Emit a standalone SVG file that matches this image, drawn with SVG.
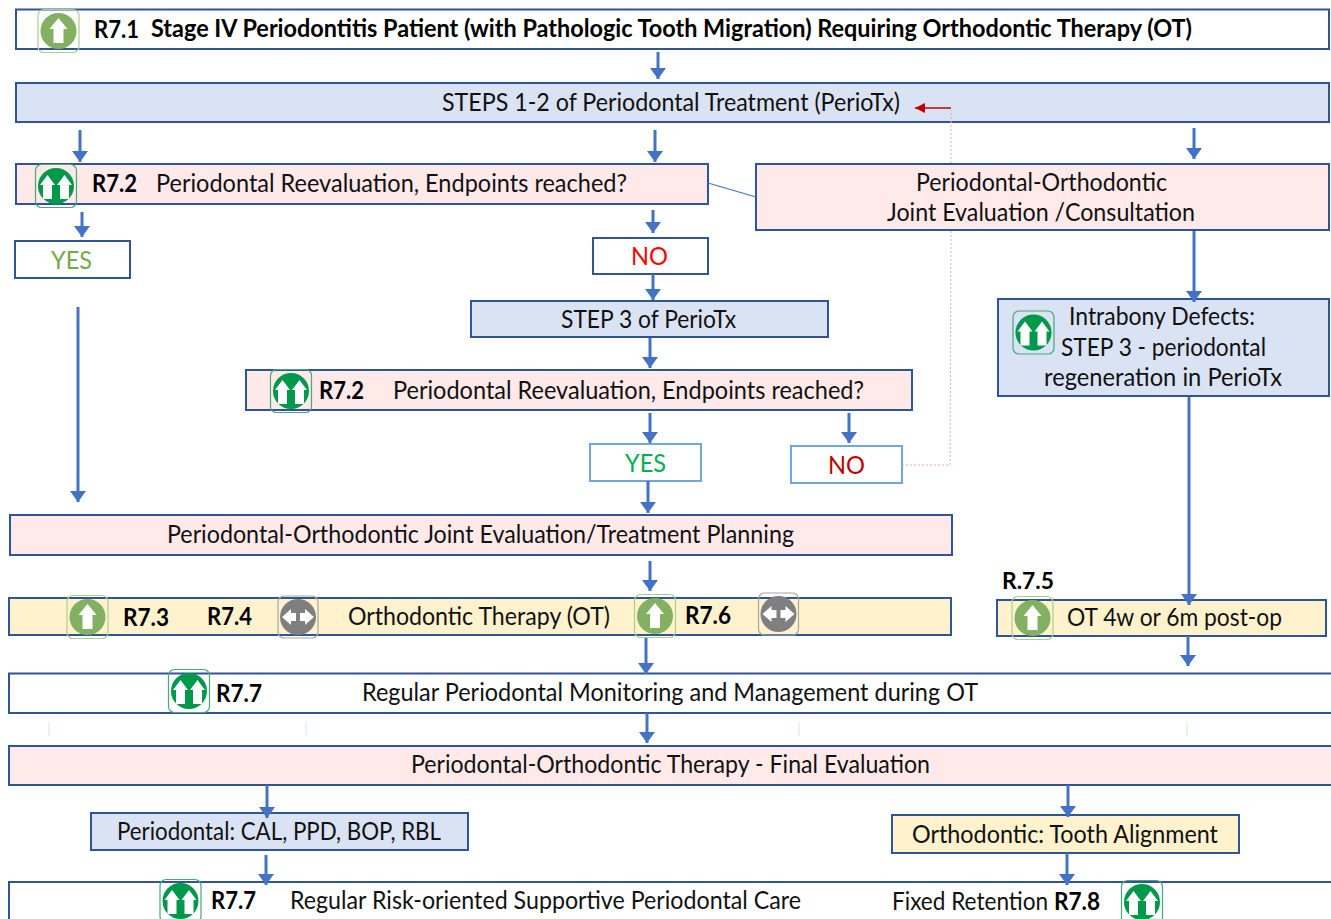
<svg xmlns="http://www.w3.org/2000/svg" width="1331" height="919" viewBox="0 0 1331 919">
<style>
text{font-family:Lato,"Open Sans","Liberation Sans",sans-serif;font-size:25px;fill:#111;}
.b{font-weight:700;fill:#000}
.box{stroke:#2f5597;stroke-width:2}
.w{fill:#fff}.blue{fill:#dae3f3}.pink{fill:#ffe9e9}.yel{fill:#fff2cc}
.lb{fill:#fff;stroke:#6fa8dc;stroke-width:2}
.fl{stroke:#4472c4;stroke-width:3;fill:none;marker-end:url(#ah)}
.tick{stroke:#e8edf5;stroke-width:1.5}
.dot{stroke:#e8a8a8;stroke-width:1;stroke-dasharray:2 2;fill:none}
</style>
<defs>
<marker id="ah" markerUnits="userSpaceOnUse" markerWidth="12" markerHeight="16" refX="11" refY="8" orient="auto"><path d="M0 0L11 8L0 16Z" fill="#4472c4"/></marker>
<marker id="rh" markerUnits="userSpaceOnUse" markerWidth="12" markerHeight="12" refX="10" refY="5" orient="auto"><path d="M0 0L10 5L0 10Z" fill="#c00000"/></marker>
<g id="up1"><rect x="-20.500" y="-21.500" width="41" height="43" rx="6" fill="none" stroke="#a9d18e" stroke-width="1.200"/><circle r="18" fill="#84b062"/><path d="M0 -13L9 -2H5V12H-5V-2H-9Z" fill="#fff"/></g>
<g id="up2"><rect x="-20.500" y="-21.500" width="41" height="43" rx="6" fill="none" stroke="#4aa878" stroke-width="1.200"/><circle r="18" fill="#00984a"/><path d="M-8.500 -11L-1 -1H-4V13H-13V-1H-16Z M8.500 -11L16 -1H13V13H4V-1H1Z" fill="#fff"/></g>
<g id="lr"><rect x="-20" y="-21" width="40" height="42" rx="6" fill="none" stroke="#a6a6a6" stroke-width="1.200"/><circle r="18" fill="#7f7f7f"/><path d="M-16 0L-7 -8V-4H-2V4H-7V8Z M16 0L7 -8V-4H2V4H7V8Z" fill="#fff"/></g>
</defs>

<g id="n-r71"><rect class="box w" x="16" y="9.500" width="1313" height="39.500"/><use href="#up1" x="58.500" y="31"/>
<text class="b" x="94" y="38" textLength="45" lengthAdjust="spacingAndGlyphs">R7.1</text>
<text class="b" x="151" y="37" textLength="1041" lengthAdjust="spacingAndGlyphs">Stage IV Periodontitis Patient (with Pathologic Tooth Migration) Requiring Orthodontic Therapy (OT)</text></g>

<g id="n-steps12"><rect class="box blue" x="16" y="83" width="1313" height="39"/>
<text x="442" y="111" textLength="458" lengthAdjust="spacingAndGlyphs">STEPS 1-2 of Periodontal Treatment (PerioTx)</text></g>

<g id="n-r72a"><rect class="box pink" x="16" y="164" width="692" height="40"/><use href="#up2" x="56" y="186"/>
<text class="b" x="92" y="192" textLength="45" lengthAdjust="spacingAndGlyphs">R7.2</text>
<text x="156" y="192" textLength="471" lengthAdjust="spacingAndGlyphs">Periodontal Reevaluation, Endpoints reached?</text></g>

<g id="n-consult"><rect class="box pink" x="756" y="164" width="573" height="66"/>
<text x="916" y="191" textLength="251" lengthAdjust="spacingAndGlyphs">Periodontal-Orthodontic</text>
<text x="887" y="221" textLength="308" lengthAdjust="spacingAndGlyphs">Joint Evaluation /Consultation</text></g>

<g id="n-yes1"><rect class="box w" x="15" y="241" width="115" height="37"/>
<text x="51" y="269" textLength="41" lengthAdjust="spacingAndGlyphs" style="fill:#70ad47">YES</text></g>

<g id="n-no1"><rect class="box w" x="593" y="238" width="115" height="36"/>
<text x="631" y="265" textLength="37" lengthAdjust="spacingAndGlyphs" style="fill:#ff0000">NO</text></g>

<g id="n-step3"><rect class="box blue" x="471" y="301" width="357" height="36"/>
<text x="561" y="328" textLength="175" lengthAdjust="spacingAndGlyphs">STEP 3 of PerioTx</text></g>

<g id="n-intrabony"><rect class="box blue" x="998" y="299" width="331" height="97"/><use href="#up2" x="1033.500" y="332.500"/>
<text x="1069" y="325" textLength="186" lengthAdjust="spacingAndGlyphs">Intrabony Defects:</text>
<text x="1061" y="356" textLength="205" lengthAdjust="spacingAndGlyphs">STEP 3 - periodontal</text>
<text x="1044" y="386" textLength="238" lengthAdjust="spacingAndGlyphs">regeneration in PerioTx</text></g>

<g id="n-r72b"><rect class="box pink" x="246" y="370" width="666" height="40"/><use href="#up2" x="291" y="391"/>
<text class="b" x="319" y="399" textLength="45" lengthAdjust="spacingAndGlyphs">R7.2</text>
<text x="393" y="399" textLength="471" lengthAdjust="spacingAndGlyphs">Periodontal Reevaluation, Endpoints reached?</text></g>

<g id="n-yes2"><rect class="lb" x="590" y="444" width="111" height="37"/>
<text x="625" y="472" textLength="41" lengthAdjust="spacingAndGlyphs" style="fill:#00b050">YES</text></g>

<g id="n-no2"><rect class="lb" x="791" y="446" width="111" height="37"/>
<text x="828" y="474" textLength="37" lengthAdjust="spacingAndGlyphs" style="fill:#c00000">NO</text></g>

<g id="n-planning"><rect class="box pink" x="10" y="515" width="942" height="40"/>
<text x="167" y="543" textLength="627" lengthAdjust="spacingAndGlyphs">Periodontal-Orthodontic Joint Evaluation/Treatment Planning</text></g>

<g id="n-ot"><rect class="box yel" x="9" y="598" width="942" height="37"/>
<use href="#up1" x="87.500" y="617"/><use href="#lr" x="298" y="617"/><use href="#up1" x="655" y="616"/><use href="#lr" x="778.500" y="614"/>
<text class="b" x="123" y="626" textLength="46" lengthAdjust="spacingAndGlyphs">R7.3</text>
<text class="b" x="207" y="625" textLength="45" lengthAdjust="spacingAndGlyphs">R7.4</text>
<text x="348" y="625" textLength="262" lengthAdjust="spacingAndGlyphs">Orthodontic Therapy (OT)</text>
<text class="b" x="685" y="624" textLength="46" lengthAdjust="spacingAndGlyphs">R7.6</text></g>

<g id="n-r75"><rect class="box yel" x="997" y="600" width="329" height="36"/><use href="#up1" x="1032.500" y="618"/>
<text class="b" x="1002" y="589" textLength="52" lengthAdjust="spacingAndGlyphs" style="font-size:23px">R.7.5</text>
<text x="1067" y="626" textLength="215" lengthAdjust="spacingAndGlyphs">OT 4w or 6m post-op</text></g>

<g id="n-monitor"><rect class="box w" x="9" y="673.500" width="1330" height="39.500"/><use href="#up2" x="189" y="691"/>
<text class="b" x="216" y="702" textLength="46" lengthAdjust="spacingAndGlyphs">R7.7</text>
<text x="362" y="701" textLength="616" lengthAdjust="spacingAndGlyphs">Regular Periodontal Monitoring and Management during OT</text></g>

<g id="n-final"><rect class="box pink" x="9" y="746" width="1330" height="39"/>
<text x="411" y="773" textLength="519" lengthAdjust="spacingAndGlyphs">Periodontal-Orthodontic Therapy - Final Evaluation</text></g>

<g id="n-perio"><rect class="box blue" x="91" y="813" width="377" height="37"/>
<text x="117" y="840" textLength="324" lengthAdjust="spacingAndGlyphs">Periodontal: CAL, PPD, BOP, RBL</text></g>

<g id="n-ortho"><rect class="box yel" x="892" y="815" width="347" height="38"/>
<text x="912" y="843" textLength="306" lengthAdjust="spacingAndGlyphs">Orthodontic: Tooth Alignment</text></g>

<g id="n-spc"><rect class="box w" x="9" y="882" width="1330" height="60"/><use href="#up2" x="180.500" y="901"/><use href="#up2" x="1142" y="902"/>
<text class="b" x="211" y="909" textLength="45" lengthAdjust="spacingAndGlyphs">R7.7</text>
<text x="290" y="909" textLength="511" lengthAdjust="spacingAndGlyphs">Regular Risk-oriented Supportive Periodontal Care</text>
<text x="892" y="910" textLength="208" lengthAdjust="spacingAndGlyphs">Fixed Retention <tspan class="b">R7.8</tspan></text></g>

<g id="connectors">
<path class="fl" d="M658 52V79"/>
<path class="fl" d="M80 130V162"/>
<path class="fl" d="M655 130V162"/>
<path class="fl" d="M1194 128V159"/>
<path class="fl" d="M82 212V237"/>
<path class="fl" d="M653 210V233"/>
<path class="fl" d="M653 274V300"/>
<path class="fl" d="M650 338V368"/>
<path class="fl" d="M650 413V443"/>
<path class="fl" d="M849 413V443"/>
<path class="fl" d="M648 481V513"/>
<path class="fl" d="M78 307V502"/>
<path class="fl" d="M650 561V591"/>
<path class="fl" d="M1194 231V302"/>
<path class="fl" d="M1189 397V605"/>
<path class="fl" d="M646 638V674"/>
<path class="fl" d="M1188 636V666"/>
<path class="fl" d="M647 713V743"/>
<path class="fl" d="M267 785V818"/>
<path class="fl" d="M1068 785V817"/>
<path class="fl" d="M266 855V885"/>
<path class="fl" d="M1067 853V885"/>
<path d="M708 183L756 197" stroke="#4472c4" stroke-width="1.200" fill="none"/>
<path class="dot" d="M902 465H950L951 231"/>
<path class="dot" d="M951 163V110"/>
<path d="M951 108H915" stroke="#c00000" stroke-width="1.500" fill="none" marker-end="url(#rh)"/>
<path class="tick" d="M49 722V736M306 722V736M799 722V736M1187 722V736"/>
</g>
</svg>
